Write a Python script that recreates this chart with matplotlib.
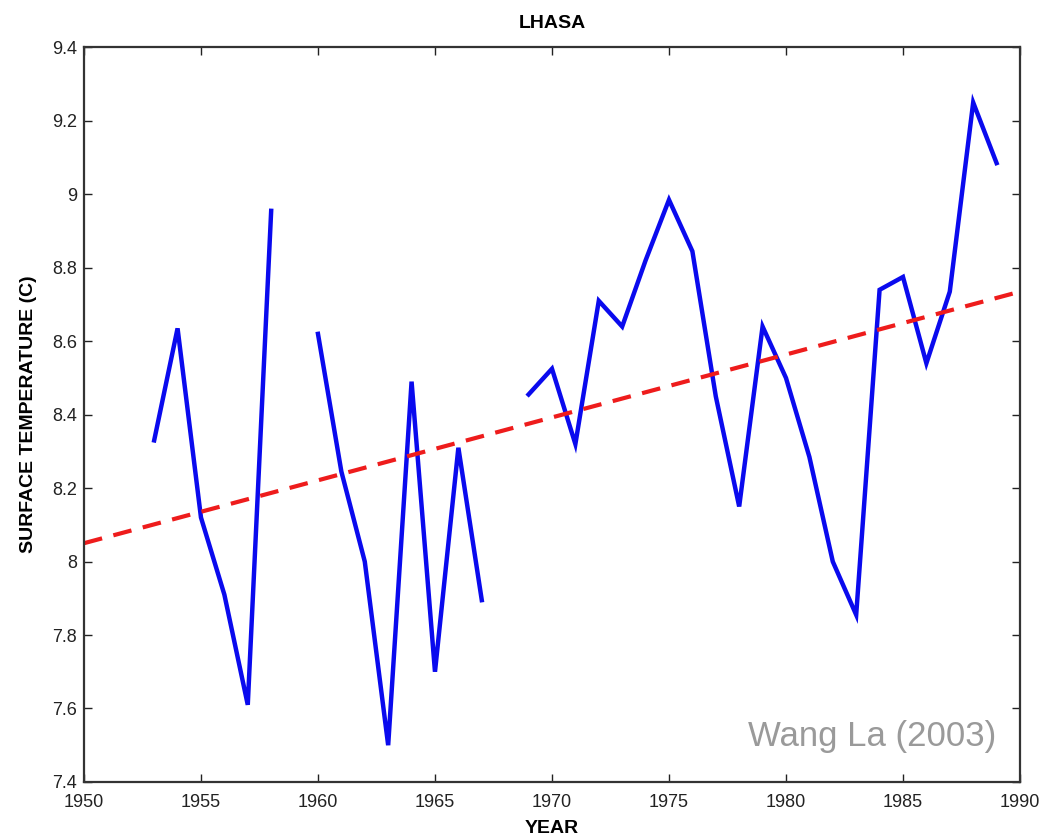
"""
Lhasa annual mean surface temperature with linear trend (MATLAB-style figure).
"""

import matplotlib

matplotlib.use("Agg")
import matplotlib.pyplot as plt
import numpy as np

# Annual values; NaN marks missing years (gaps).
years = list(range(1953, 1990))
temps = [
    8.33, 8.635, 8.12, 7.91, 7.61, 8.955, np.nan,          # 1953-1959
    8.62, 8.245, 8.00, 7.50, 8.49, 7.70, 8.31, 7.895,      # 1960-1967
    np.nan,                                                # 1968
    8.455, 8.525, 8.32, 8.71, 8.64, 8.82, 8.985, 8.845,    # 1969-1976
    8.45, 8.15, 8.64, 8.50, 8.285, 8.00, 7.855,            # 1977-1983
    8.74, 8.775, 8.54, 8.735, 9.25, 9.085,                 # 1984-1989
]

trend_years = [1950, 1990]
trend_values = [8.05, 8.735]

x_ticks = [1950, 1955, 1960, 1965, 1970, 1975, 1980, 1985, 1990]
y_ticks = [7.4, 7.6, 7.8, 8.0, 8.2, 8.4, 8.6, 8.8, 9.0, 9.2, 9.4]
y_tick_labels = ["7.4", "7.6", "7.8", "8", "8.2", "8.4", "8.6", "8.8", "9", "9.2", "9.4"]

plt.rcParams["font.family"] = ["Liberation Sans", "DejaVu Sans"]

fig = plt.figure(figsize=(10.47, 8.39), dpi=100)
ax = fig.add_axes([0.0802, 0.068, 0.894, 0.8755])

ax.plot(years, temps, color="#0a0aee", linewidth=3.2, solid_joinstyle="miter")
ax.plot(trend_years, trend_values, color="#ee1c1c", linewidth=3.0,
        linestyle=(0, (4.5, 2.8)))

ax.set_xlim(1950, 1990)
ax.set_ylim(7.4, 9.4)
ax.set_xticks(x_ticks)
ax.set_yticks(y_ticks)
ax.set_yticklabels(y_tick_labels)
ax.tick_params(direction="in", length=6, width=1.0, labelsize=13,
               top=True, right=True, colors="#222222")
ax.tick_params(axis="x", pad=9)
ax.tick_params(axis="y", pad=5)
for side in ax.spines.values():
    side.set_linewidth(1.6)
    side.set_color("#333333")

ax.set_title("LHASA", fontsize=14, fontweight="bold", pad=14)
ax.set_xlabel("YEAR", fontsize=14, fontweight="bold", labelpad=6)
ax.set_ylabel("SURFACE TEMPERATURE (C)", fontsize=14, fontweight="bold", labelpad=11)

ax.text(0.975, 0.04, "Wang La (2003)", transform=ax.transAxes,
        ha="right", va="bottom", fontsize=25, color="#9a9a9a")

fig.savefig("out.png", dpi=100)
